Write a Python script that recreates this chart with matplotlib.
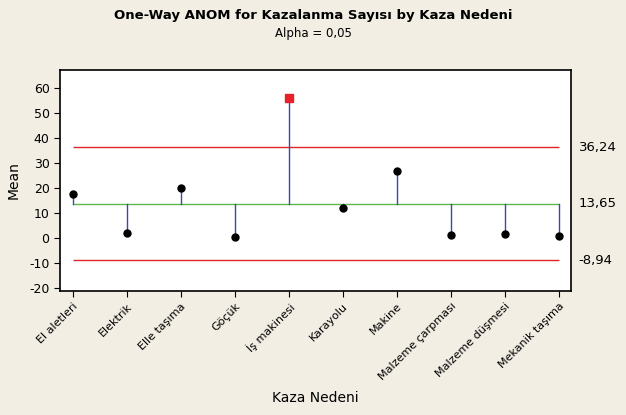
import matplotlib
matplotlib.use("Agg")
import matplotlib.pyplot as plt
import numpy as np

categories = ["El aletleri", "Elektrik", "Elle taşıma", "Göçük", "İş makinesi",
              "Karayolu", "Makine", "Malzeme çarpması", "Malzeme düşmesi", "Mekanik taşıma"]
means = [17.4, 1.8, 19.8, 0.2, 55.9, 11.9, 26.7, 1.0, 1.4, 0.6]
center = 13.65
udl = 36.24
ldl = -8.94
limit_labels = ["36,24", "13,65", "-8,94"]
yticks = [-20, -10, 0, 10, 20, 30, 40, 50, 60]

bg = "#F2EEE4"
fig = plt.figure(figsize=(6.26, 4.15), dpi=100, facecolor=bg)
ax = fig.add_axes([60/626, 1-290.7/415, (571-60)/626, (290.7-70)/415])
ax.set_facecolor("white")

x = np.arange(len(categories))
ax.set_xlim(-0.24, 9.23)
ax.set_ylim(-21.2, 67.2)

ax.hlines([udl, ldl], 0, len(categories)-1, colors="#E0242C", lw=1)
ax.hlines(center, 0, len(categories)-1, colors="#5CB84A", lw=1)
for xi, m in zip(x, means):
    ax.plot([xi, xi], [center, m], color="#3A4AA8", lw=1, zorder=2)
    if m > udl or m < ldl:
        ax.plot(xi, m, marker="s", color="#E8202A", ms=6, zorder=3, linestyle="none")
    else:
        ax.plot(xi, m, marker="o", color="black", ms=5, zorder=3, linestyle="none")

for v, lab in zip([udl, center, ldl], limit_labels):
    ax.text(1.015, v, lab, transform=ax.get_yaxis_transform(), va="center", ha="left",
            fontsize=9.5, color="black")

ax.set_yticks(yticks)
ax.set_yticklabels([str(t) for t in yticks], fontsize=9)
ax.set_xticks(x)
ax.set_xticklabels(categories, rotation=45, ha="right", rotation_mode="anchor", fontsize=8)
ax.tick_params(axis="both", length=4, color="black")
for s in ax.spines.values():
    s.set_linewidth(1.2)

ax.set_ylabel("Mean", fontsize=10)
ax.yaxis.set_label_coords(-0.077, 0.5)
ax.set_xlabel("Kaza Nedeni", fontsize=10)
ax.xaxis.set_label_coords(0.5, -(391-290.7)/(290.7-70))

fig.text(0.5, 1-15/415, "One-Way ANOM for Kazalanma Sayısı by Kaza Nedeni",
         ha="center", va="center", fontsize=9.5, fontweight="bold")
fig.text(0.5, 1-33/415, "Alpha = 0,05", ha="center", va="center", fontsize=8.5)

fig.savefig("out.png", dpi=100, facecolor=bg)
